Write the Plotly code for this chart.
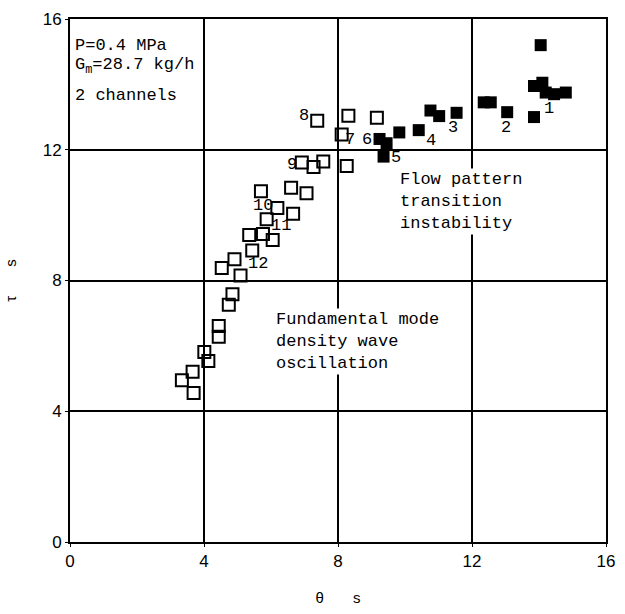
import plotly.graph_objects as go

# Open squares: fundamental mode density wave oscillation
open_theta = [7.38, 8.31, 9.16, 8.11, 8.26, 6.92, 7.27, 7.56, 5.70, 6.60, 7.06,
              6.19, 6.66, 5.87, 5.35, 5.76, 6.05, 5.44, 4.91, 4.53, 5.09,
              4.85, 4.74, 4.44, 4.44, 4.01, 4.13, 3.66, 3.34, 3.69]
open_tau = [12.89, 13.04, 12.98, 12.47, 11.50, 11.61, 11.47, 11.64, 10.73, 10.84, 10.67,
            10.22, 10.04, 9.87, 9.39, 9.42, 9.24, 8.92, 8.65, 8.38, 8.15,
            7.58, 7.26, 6.61, 6.28, 5.81, 5.54, 5.21, 4.95, 4.56]

# Filled squares: flow pattern transition instability
filled_theta = [9.24, 9.45, 9.36, 9.83, 10.41, 10.76, 11.02, 11.54, 12.35, 12.56,
                13.05, 13.85, 13.85, 14.05, 14.10, 14.20, 14.45, 14.80]
filled_tau = [12.33, 12.20, 11.79, 12.53, 12.60, 13.20, 13.03, 13.13, 13.45, 13.45,
              13.15, 13.00, 13.95, 15.20, 14.05, 13.75, 13.70, 13.75]

# Run numbers
run_labels = ["1", "2", "3", "4", "5", "6", "7", "8", "9", "10", "11", "12"]
run_theta = [14.30, 13.02, 11.43, 10.78, 9.72, 8.87, 8.37, 6.98, 6.63, 5.75, 6.31, 5.60]
run_tau = [13.25, 12.68, 12.68, 12.27, 11.76, 12.30, 12.30, 13.04, 11.56, 10.28, 9.69, 8.53]

x_ticks = [0, 4, 8, 12, 16]
y_ticks = [0, 4, 8, 12, 16]

MONO = "Liberation Mono, DejaVu Sans Mono, monospace"
SANS = "Liberation Sans, Arial, sans-serif"

fig = go.Figure()
fig.add_trace(go.Scatter(
    x=open_theta, y=open_tau, mode="markers",
    marker=dict(symbol="square-open", size=12, color="black", line=dict(width=2, color="black")),
    showlegend=False, cliponaxis=False))
fig.add_trace(go.Scatter(
    x=filled_theta, y=filled_tau, mode="markers",
    marker=dict(symbol="square", size=12, color="black"),
    showlegend=False, cliponaxis=False))

annotations = []
for t, x, y in zip(run_labels, run_theta, run_tau):
    annotations.append(dict(x=x, y=y, text=t, showarrow=False,
                            font=dict(family=MONO, size=17, color="black")))

info_lines = ["P=0.4 MPa", "G<sub>m</sub>=28.7 kg/h", "2 channels"]
info_tau = [15.2, 14.55, 13.65]
for t, y in zip(info_lines, info_tau):
    annotations.append(dict(x=0.1, y=y, xanchor="left", yanchor="middle", showarrow=False,
                            text=t, font=dict(family=MONO, size=17, color="black")))

annotations.append(dict(
    x=9.8, y=11.45, xanchor="left", yanchor="top", align="left", showarrow=False,
    text="Flow pattern<br>transition<br>instability", bgcolor="white",
    font=dict(family=MONO, size=17, color="black")))
annotations.append(dict(
    x=6.1, y=7.15, xanchor="left", yanchor="top", align="left", showarrow=False,
    text="Fundamental mode<br>density wave<br>oscillation", bgcolor="white",
    font=dict(family=MONO, size=17, color="black")))

fig.update_layout(
    width=625, height=614,
    margin=dict(l=65, r=10, t=15, b=59),
    paper_bgcolor="white", plot_bgcolor="white",
    annotations=annotations,
    xaxis=dict(range=[0, 16], tickvals=x_ticks, ticktext=[str(v) for v in x_ticks],
               showgrid=True, gridcolor="black", gridwidth=1.5,
               showline=True, linecolor="black", linewidth=2, mirror=True,
               ticks="outside", ticklen=3, tickcolor="black", zeroline=False,
               tickfont=dict(family=SANS, size=17, color="black"),
               title=dict(text="θ       s", font=dict(family=SANS, size=15, color="black"), standoff=22)),
    yaxis=dict(range=[0, 16], tickvals=y_ticks, ticktext=[str(v) for v in y_ticks],
               showgrid=True, gridcolor="black", gridwidth=2,
               showline=True, linecolor="black", linewidth=2, mirror=True,
               ticks="outside", ticklen=3, tickcolor="black", zeroline=False,
               tickfont=dict(family=SANS, size=17, color="black"),
               title=dict(text="τ       s", font=dict(family=SANS, size=15, color="black"), standoff=22)),
)

fig.write_html("out.html")
